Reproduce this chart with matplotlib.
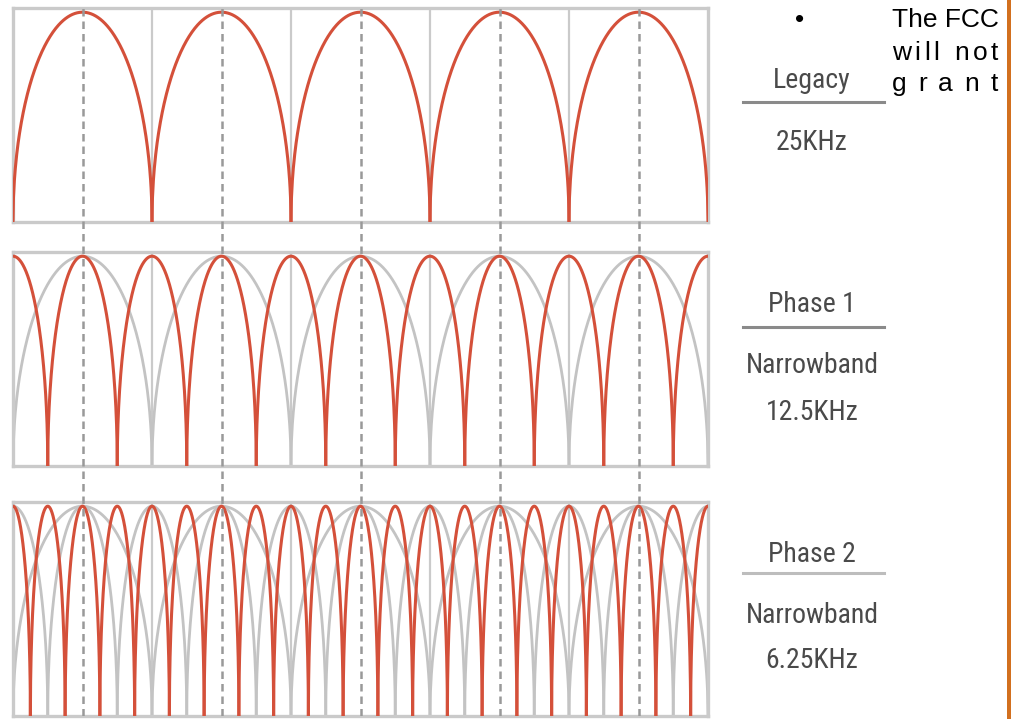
import matplotlib
matplotlib.use('Agg')
import matplotlib.pyplot as plt
import numpy as np
from matplotlib import font_manager
from matplotlib.patches import Rectangle

# channel plans, kHz
band_width = 125.0
legacy_spacing = 25.0
phase1_spacing = 12.5
phase2_spacing = 6.25
grid_spacing = 25.0

panel_titles = ['Legacy', 'Phase 1', 'Phase 2']
panel_subs = [['25KHz'], ['Narrowband', '12.5KHz'], ['Narrowband', '6.25KHz']]
# red = the panel's plan, gray = older plans shown behind
red_plans = [legacy_spacing, phase1_spacing, phase2_spacing]
gray_plans = [[], [legacy_spacing], [legacy_spacing, phase1_spacing]]
# centres of the legacy plan (dashed)
legacy_centres = np.arange(legacy_spacing / 2, band_width, legacy_spacing)

side_lines = ['The FCC', 'will not', 'grant']

RED = '#d4503a'
GRAY = '#c3c3c3'
FRAME = '#cacaca'

# pick a condensed face for the labels if one is installed
fonts = font_manager.fontManager.ttflist
names = {f.name for f in fonts}
label_font = dict(family='Liberation Sans', fontsize=16.5)
for cand in ['Liberation Sans Narrow', 'Roboto Condensed', 'Open Sans Condensed',
             'Noto Sans Condensed', 'DejaVu Sans Condensed']:
    if cand in names:
        label_font = dict(family=cand, fontsize=20)
        break
else:
    for f in fonts:
        if f.name in ('DejaVu Sans', 'Noto Sans', 'Open Sans', 'Roboto') \
                and 'condensed' in str(f.stretch) and f.weight in (400, 'normal', 'regular'):
            label_font = dict(family=f.name, fontstretch='condensed', fontsize=18)
            break

W, H = 1012, 719
fig = plt.figure(figsize=(W / 100, H / 100), dpi=100)
fig.patch.set_facecolor('white')


def fx(px):
    return px / W


def fy(py):
    return 1 - py / H


def arch(spacing, first):
    # one channel: half ellipse over width = spacing
    centres = np.arange(first, band_width + 0.01, spacing)
    out = []
    for c in centres:
        x = np.linspace(c - spacing / 2, c + spacing / 2, 300)
        t = (x - c) / (spacing / 2)
        out.append((x, np.sqrt(np.clip(1 - t ** 2, 0, 1))))
    return out


def first_centre(spacing):
    return spacing / 2 if spacing == legacy_spacing else 0.0


left, right = 13, 708
tops = [8, 252, 502]
ph = 214
for i in range(3):
    ax = fig.add_axes([fx(left), fy(tops[i] + ph), fx(right - left), ph / H])
    ax.set_xlim(0, band_width)
    ax.set_ylim(0, 1.02)
    ax.set_xticks([])
    ax.set_yticks([])
    for s in ax.spines.values():
        s.set_color(FRAME)
        s.set_linewidth(2.4)
    for g in np.arange(grid_spacing, band_width, grid_spacing):
        ax.axvline(g, color=FRAME, lw=1.6, zorder=1)
    for sp in gray_plans[i]:
        for x, y in arch(sp, first_centre(sp)):
            ax.plot(x, y, color=GRAY, lw=2.0, zorder=2)
    sp = red_plans[i]
    for x, y in arch(sp, first_centre(sp)):
        ax.plot(x, y, color=RED, lw=2.2, zorder=3, solid_capstyle='round')

# dashed legacy centre lines across all three panels
ov = fig.add_axes([fx(left), fy(716), fx(right - left), (716 - 5) / H])
ov.set_xlim(0, band_width)
ov.set_ylim(0, 1)
ov.axis('off')
ov.patch.set_alpha(0)
for c in legacy_centres:
    ov.axvline(c, color='#999999', lw=1.8, linestyle=(0, (3, 2)), zorder=5)

# right-hand labels
label_color = '#4a4a4a'
title_base = [88, 312, 562]
rule_y = [102, 327, 573]
rule_col = ['#8a8a8a', '#8a8a8a', '#bdbdbd']
sub_base = [[150], [373, 420], [623, 668]]
cx = 812
for i in range(3):
    fig.text(fx(cx), fy(title_base[i]), panel_titles[i], ha='center', va='baseline',
             color=label_color, **label_font)
    fig.add_artist(plt.Line2D([fx(743), fx(884)], [fy(rule_y[i])] * 2,
                              color=rule_col[i], lw=2.2))
    for txt, yb in zip(panel_subs[i], sub_base[i]):
        fig.text(fx(cx), fy(yb), txt, ha='center', va='baseline',
                 color=label_color, **label_font)

# justified bullet text at the top right
body = dict(fontsize=19, color='black', family='Liberation Sans', va='baseline')
renderer = fig.canvas.get_renderer()


def justify(row, yb, x0, x1):
    words = row.split(' ')
    glyphs = []
    for wi, w in enumerate(words):
        for ch in w:
            glyphs.append(fig.text(fx(x0), fy(yb), ch, ha='left', **body))
        if wi < len(words) - 1:
            glyphs.append(None)
    widths = [7.4 if g is None else g.get_window_extent(renderer).width for g in glyphs]
    gap = (x1 - x0 - sum(widths)) / (len(glyphs) - 1)
    x = x0
    for g, w in zip(glyphs, widths):
        if g is not None:
            g.set_x(fx(x))
        x += w + gap


fig.text(fx(800), fy(27), '\u2022', ha='center', **body)
fig.text(fx(892), fy(27), side_lines[0], ha='left', **body)
justify(side_lines[1], 60, 892, 998)
justify(side_lines[2], 91, 892, 998)

# orange side bar
fig.add_artist(Rectangle((fx(1007), 0), fx(W - 1007), 1, transform=fig.transFigure,
                         facecolor='#d2701f', edgecolor='none'))

fig.savefig('out.png', dpi=100)
